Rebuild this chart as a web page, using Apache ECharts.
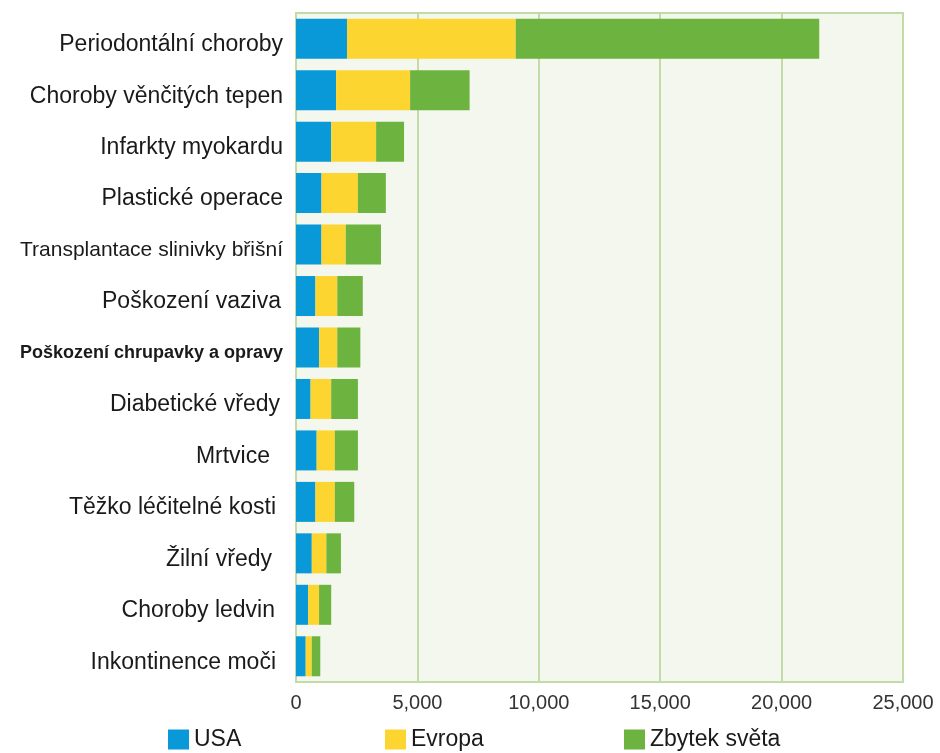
<!DOCTYPE html>
<html>
<head>
<meta charset="utf-8">
<script src="https://cdn.jsdelivr.net/npm/echarts@6/dist/echarts.min.js"></script>
<style>
  html, body { margin: 0; padding: 0; background: #ffffff; }
  #chart { width: 940px; height: 753px; }
</style>
</head>
<body>
<div id="chart"></div>
<script>
// Categories, top to bottom
const categories = [
  'Periodontální choroby',
  'Choroby věnčitých tepen',
  'Infarkty myokardu',
  'Plastické operace',
  'Transplantace slinivky břišní',
  'Poškození vaziva',
  'Poškození chrupavky a opravy',
  'Diabetické vředy',
  'Mrtvice',
  'Těžko léčitelné kosti',
  'Žilní vředy',
  'Choroby ledvin',
  'Inkontinence moči'
];

// Values per region
const usa    = [2100, 1650, 1450, 1050, 1050, 800, 950, 600, 850, 800, 650, 500, 400];
const evropa = [6950, 3050, 1850, 1500, 1000, 900, 750, 850, 750, 800, 600, 450, 250];
const zbytek = [12500, 2450, 1150, 1150, 1450, 1050, 950, 1100, 950, 800, 600, 500, 350];

const seriesNames = ['USA', 'Evropa', 'Zbytek světa'];
const colors = ['#0998d8', '#fdd530', '#6cb33f'];

// Axis ticks
const xTicks = [0, 5000, 10000, 15000, 20000, 25000];

const chart = echarts.init(document.getElementById('chart'), null, { renderer: 'canvas' });

const font = '"Liberation Sans", Arial, sans-serif';

// Label styles: two long names are set smaller; a few short ones sit a bit
// further from the axis (right padding in px)
const rightGap = {
  'Diabetické vředy': 3,
  'Poškození vaziva': 2,
  'Mrtvice': 13,
  'Těžko léčitelné kosti': 7,
  'Žilní vředy': 11,
  'Choroby ledvin': 8,
  'Inkontinence moči': 7
};

function labelStyle(size, weight, gap) {
  return {
    fontSize: size,
    fontFamily: font,
    fontWeight: weight,
    color: '#1a1a1a',
    padding: [12, gap, 0, 0]
  };
}

const labelRich = { s: labelStyle(21, 'normal', 0), b: labelStyle(18, 'bold', 0) };
const gapKeys = {};
[0, 2, 3, 7, 8, 11, 13].forEach(g => {
  labelRich['n' + g] = labelStyle(23, 'normal', g);
});

function bar(name, values, color) {
  return {
    name: name,
    type: 'bar',
    stack: 'total',
    barWidth: 40,
    itemStyle: { color: color },
    emphasis: { disabled: true },
    data: values
  };
}

function legendAt(name, left) {
  return {
    data: [name],
    left: left,
    top: 723,
    icon: 'rect',
    itemWidth: 21,
    itemHeight: 20,
    itemGap: 6,
    selectedMode: false,
    textStyle: { fontSize: 23, fontFamily: font, color: '#1a1a1a', padding: [0, 0, 0, 0] }
  };
}

chart.setOption({
  animation: false,
  backgroundColor: '#ffffff',
  grid: {
    left: 296, top: 13, width: 607, height: 669,
    show: true,
    backgroundColor: '#f3f7ed',
    borderColor: '#c3dba6',
    borderWidth: 2
  },
  legend: [
    legendAt(seriesNames[0], 163),
    legendAt(seriesNames[1], 380),
    legendAt(seriesNames[2], 619)
  ],
  xAxis: {
    type: 'value',
    min: xTicks[0],
    max: xTicks[xTicks.length - 1],
    interval: xTicks[1] - xTicks[0],
    axisLine: { show: false },
    axisTick: { show: false },
    splitLine: { show: true, lineStyle: { color: '#c3dba6', width: 2 } },
    axisLabel: {
      margin: 11,
      fontSize: 20,
      fontFamily: font,
      color: '#333333',
      formatter: v => v.toLocaleString('en-US')
    }
  },
  yAxis: {
    type: 'category',
    inverse: true,
    data: categories,
    axisLine: { show: false },
    axisTick: { show: false },
    splitLine: { show: false },
    axisLabel: {
      margin: 13,
      formatter: v => {
        if (v === 'Transplantace slinivky břišní') return '{s|' + v + '}';
        if (v === 'Poškození chrupavky a opravy') return '{b|' + v + '}';
        return '{n' + (rightGap[v] || 0) + '|' + v + '}';
      },
      rich: labelRich
    }
  },
  series: [
    bar(seriesNames[0], usa, colors[0]),
    bar(seriesNames[1], evropa, colors[1]),
    bar(seriesNames[2], zbytek, colors[2])
  ]
});
</script>
</body>
</html>
